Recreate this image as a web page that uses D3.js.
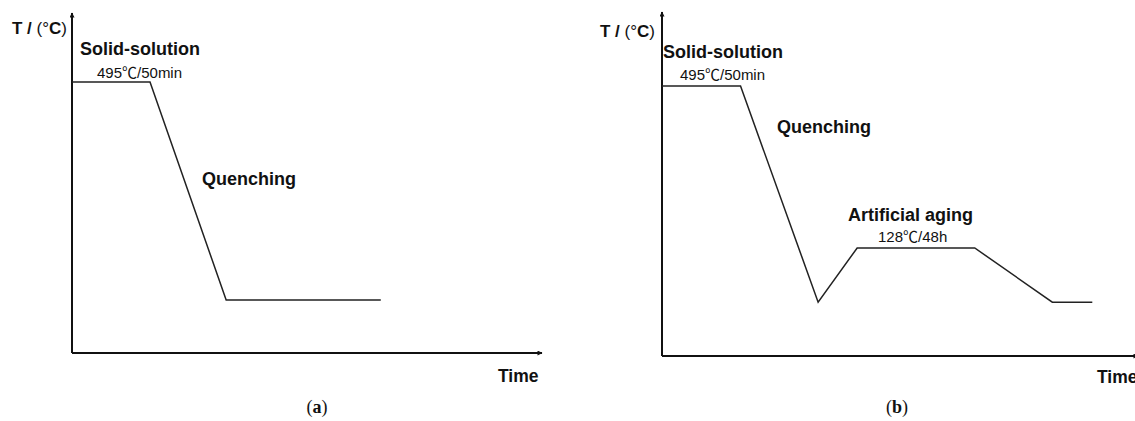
<!DOCTYPE html>
<html>
<head>
<meta charset="utf-8">
<script src="https://cdn.jsdelivr.net/npm/d3@7"></script>
<style>
  html, body { margin: 0; padding: 0; background: #fff; }
  svg { display: block; }
  .sans { font-family: "Liberation Sans", Arial, "Noto Sans CJK SC", sans-serif; fill: #111; }
  .serif { font-family: "Liberation Serif", "Times New Roman", serif; fill: #111; }
</style>
</head>
<body>
<svg id="chart" width="1135" height="421"></svg>
<script>
// Heat-treatment schedules (schematic). Time in arbitrary units, temperature in °C.
const timeA = [0, 16.6, 32.8, 65.7];
const tempA = [495, 495, 5, 5];

const timeB = [0, 16.5, 32.8, 41, 65.7, 82, 90.4];
const tempB = [495, 495, 5, 128, 128, 5, 5];

const solutionLabel = "495℃/50min";
const agingLabel = "128℃/48h";

const svg = d3.select("#chart");

// arrow marker for the axes
svg.append("defs").append("marker")
  .attr("id", "arrow")
  .attr("viewBox", "0 0 10 10")
  .attr("refX", 9).attr("refY", 5)
  .attr("markerWidth", 8).attr("markerHeight", 5)
  .attr("markerUnits", "userSpaceOnUse")
  .attr("orient", "auto")
  .append("path")
  .attr("d", "M0,0 L10,5 L0,10 Z")
  .attr("fill", "#111");

function drawPanel(cfg) {
  const g = svg.append("g");
  const x = d3.scaleLinear().domain([0, 100]).range(cfg.xRange);
  const y = d3.scaleLinear().domain(cfg.tDomain).range(cfg.yRange);

  // axes
  g.append("line")
    .attr("x1", x(0)).attr("y1", y(cfg.tDomain[0]))
    .attr("x2", x(0)).attr("y2", y(cfg.tDomain[1]))
    .attr("stroke", "#111").attr("stroke-width", 2)
    .attr("marker-end", "url(#arrow)");
  g.append("line")
    .attr("x1", x(0)).attr("y1", y(cfg.tDomain[0]))
    .attr("x2", x(100)).attr("y2", y(cfg.tDomain[0]))
    .attr("stroke", "#111").attr("stroke-width", 2)
    .attr("marker-end", "url(#arrow)");

  // schedule curve
  const line = d3.line().x((d, i) => x(cfg.time[i])).y(d => y(d));
  g.append("path")
    .datum(cfg.temp)
    .attr("d", line)
    .attr("fill", "none")
    .attr("stroke", "#222")
    .attr("stroke-width", 1.5);

  // axis titles
  const yt = g.append("text").attr("class", "sans")
    .attr("x", cfg.yTitle[0]).attr("y", cfg.yTitle[1])
    .attr("text-anchor", cfg.yTitleAnchor)
    .style("font-size", "17px");
  yt.append("tspan").attr("font-weight", "bold").text("T / ");
  yt.append("tspan").text("(°");
  yt.append("tspan").attr("font-weight", "bold").text("C");
  yt.append("tspan").text(")");

  g.append("text").attr("class", "sans")
    .attr("x", cfg.xTitle[0]).attr("y", cfg.xTitle[1])
    .attr("font-weight", "bold").style("font-size", "17.5px")
    .text("Time");

  cfg.labels.forEach(l => {
    g.append("text").attr("class", "sans")
      .attr("x", l.x).attr("y", l.y)
      .attr("font-weight", l.bold ? "bold" : "normal")
      .style("font-size", l.size + "px")
      .text(l.text);
  });

  const cap = g.append("text").attr("class", "serif")
    .attr("x", cfg.caption[0]).attr("y", cfg.caption[1])
    .attr("text-anchor", "middle")
    .style("font-size", "18px");
  cap.append("tspan").text("(");
  cap.append("tspan").attr("font-weight", "bold").text(cfg.captionLetter);
  cap.append("tspan").text(")");
}

drawPanel({
  time: timeA, temp: tempA,
  xRange: [72, 542], yRange: [353, 13], tDomain: [-114, 650],
  yTitle: [12, 34], yTitleAnchor: "start",
  xTitle: [498, 382],
  caption: [317, 413], captionLetter: "a",
  labels: [
    { text: "Solid-solution", x: 80, y: 55, bold: true, size: 18 },
    { text: solutionLabel, x: 97, y: 78, bold: false, size: 15 },
    { text: "Quenching", x: 202, y: 185, bold: true, size: 18 }
  ]
});

drawPanel({
  time: timeB, temp: tempB,
  xRange: [662, 1138], yRange: [356, 12], tDomain: [-117, 663],
  yTitle: [655, 37], yTitleAnchor: "end",
  xTitle: [1097, 383],
  caption: [897, 413], captionLetter: "b",
  labels: [
    { text: "Solid-solution", x: 663, y: 58, bold: true, size: 18 },
    { text: solutionLabel, x: 680, y: 80, bold: false, size: 15 },
    { text: "Quenching", x: 777, y: 133, bold: true, size: 18 },
    { text: "Artificial aging", x: 848, y: 221, bold: true, size: 18 },
    { text: agingLabel, x: 878, y: 242, bold: false, size: 15 }
  ]
});
</script>
</body>
</html>
